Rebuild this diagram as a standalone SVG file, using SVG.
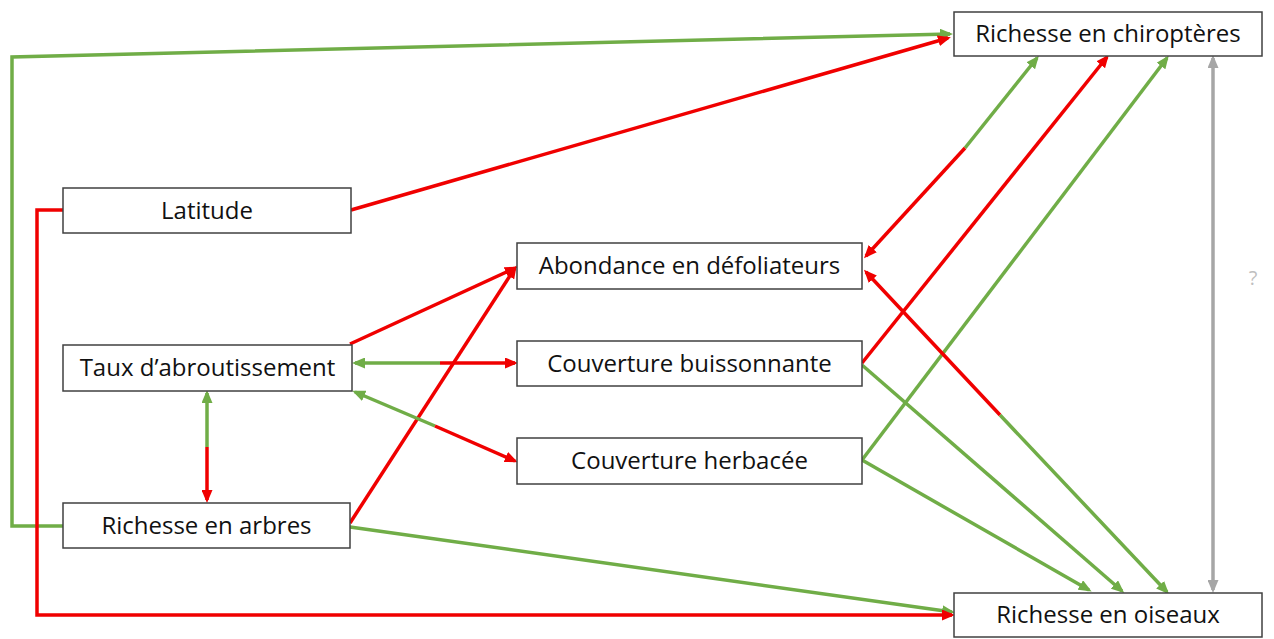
<svg xmlns="http://www.w3.org/2000/svg" width="1274" height="639" viewBox="0 0 1274 639">
<defs>
<style>
.box{fill:#fff;stroke:#404040;stroke-width:1.5}
.lbl{font-family:"Open Sans","Liberation Sans",sans-serif;font-size:24px;fill:#111;text-anchor:middle}
.g{fill:none;stroke:#70AD47;stroke-width:3.5}
.r{fill:none;stroke:#F00000;stroke-width:3.5}
.k{fill:none;stroke:#A6A6A6;stroke-width:3.5}
</style>
<marker id="ag" viewBox="0 0 13 11" refX="10" refY="5.5" markerWidth="13" markerHeight="11" markerUnits="userSpaceOnUse" orient="auto-start-reverse"><path d="M0,0 L13,5.5 L0,11 z" fill="#70AD47"/></marker>
<marker id="ar" viewBox="0 0 13 11" refX="10" refY="5.5" markerWidth="13" markerHeight="11" markerUnits="userSpaceOnUse" orient="auto-start-reverse"><path d="M0,0 L13,5.5 L0,11 z" fill="#F00000"/></marker>
<marker id="ak" viewBox="0 0 13 11" refX="10" refY="5.5" markerWidth="13" markerHeight="11" markerUnits="userSpaceOnUse" orient="auto-start-reverse"><path d="M0,0 L13,5.5 L0,11 z" fill="#A6A6A6"/></marker>
</defs>
<rect width="1274" height="639" fill="#fff"/>
<g id="connectors">
<polyline class="g" points="63,526 12,526 12,57 950,34" marker-end="url(#ag)"/>
<path class="r" d="M351,210 L948,38" marker-end="url(#ar)"/>
<path class="r" d="M350,344 L515,268" marker-end="url(#ar)"/>
<path class="r" d="M350,523 L515,268" marker-end="url(#ar)"/>
<path class="g" d="M440,363 L355,363" marker-end="url(#ag)"/>
<path class="r" d="M440,363 L515,363" marker-end="url(#ar)"/>
<path class="g" d="M435,426 L355,392" marker-end="url(#ag)"/>
<path class="r" d="M435,426 L515,461" marker-end="url(#ar)"/>
<path class="g" d="M207,447 L207,393" marker-end="url(#ag)"/>
<path class="r" d="M207,447 L207,500" marker-end="url(#ar)"/>
<path class="r" d="M862,363 L1107,57" marker-end="url(#ar)"/>
<path class="g" d="M965,148 L1037,58" marker-end="url(#ag)"/>
<path class="r" d="M965,148 L866,256" marker-end="url(#ar)"/>
<path class="g" d="M862,460 L1167,58" marker-end="url(#ag)"/>
<path class="g" d="M1000,415 L1167,592" marker-end="url(#ag)"/>
<path class="r" d="M1000,415 L866,272" marker-end="url(#ar)"/>
<path class="g" d="M862,365 L1122,591" marker-end="url(#ag)"/>
<path class="g" d="M862,460 L1089,590" marker-end="url(#ag)"/>
<path class="g" d="M350,527 L952,612" marker-end="url(#ag)"/>
<polyline class="r" points="63,210 37,210 37,615 952,615" marker-end="url(#ar)"/>
<path class="k" d="M1213,58 L1213,590" marker-start="url(#ak)" marker-end="url(#ak)"/>
<text x="1253" y="285" style="font-family:'Open Sans','Liberation Sans',sans-serif;font-size:20px;fill:#BFBFBF;text-anchor:middle">?</text>
</g>
<g id="n-chiropteres"><rect class="box" x="954" y="12" width="308" height="44"/><text class="lbl" x="1108" y="42">Richesse en chiroptères</text></g>
<g id="n-latitude"><rect class="box" x="63" y="188" width="288" height="45"/><text class="lbl" x="207" y="219">Latitude</text></g>
<g id="n-abondance"><rect class="box" x="517" y="243" width="345" height="46"/><text class="lbl" x="689.5" y="274">Abondance en défoliateurs</text></g>
<g id="n-taux"><rect class="box" x="63" y="345" width="289" height="46"/><text class="lbl" x="207.5" y="376">Taux d’abroutissement</text></g>
<g id="n-buissonnante"><rect class="box" x="517" y="341" width="345" height="45"/><text class="lbl" x="689.5" y="372">Couverture buissonnante</text></g>
<g id="n-herbacee"><rect class="box" x="517" y="438" width="345" height="46"/><text class="lbl" x="689.5" y="469">Couverture herbacée</text></g>
<g id="n-arbres"><rect class="box" x="63" y="503" width="287" height="45"/><text class="lbl" x="206.5" y="534">Richesse en arbres</text></g>
<g id="n-oiseaux"><rect class="box" x="954" y="593" width="308" height="44"/><text class="lbl" x="1108" y="623">Richesse en oiseaux</text></g>
</svg>
